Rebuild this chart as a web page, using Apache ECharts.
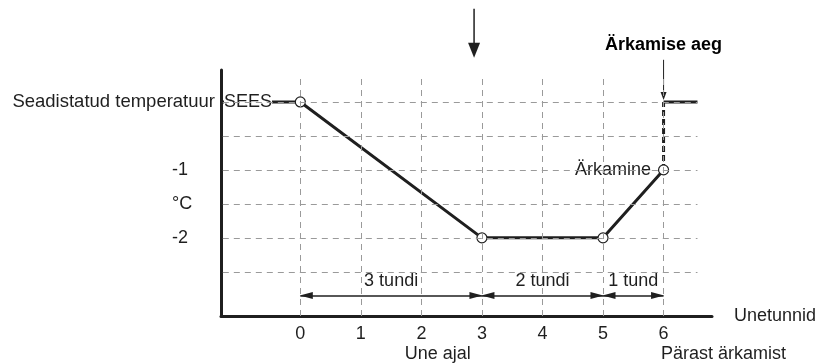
<!DOCTYPE html>
<html>
<head>
<meta charset="utf-8">
<script src="https://cdn.jsdelivr.net/npm/echarts@6/dist/echarts.min.js"></script>
<style>
  html, body { margin: 0; padding: 0; background: #fff; }
  #chart { width: 821px; height: 363px; }
</style>
</head>
<body>
<div id="chart"></div>
<script>
// axis extents
const xStart = -1.31
const xEnd = 6.8
const yMin = -3.15
const yMax = 0.47

// tick labels
const xTicks = [0, 1, 2, 3, 4, 5, 6]
const yTickVals = [0, -1, -1.5, -2]
const yTickText = ['Seadistatud temperatuur', '-1', '°C', '-2']

// dashed grid
const gridXs = [0, 1, 2, 3, 4, 5, 6]
const gridYs = [0, -0.5, -1, -1.5, -2, -2.5]
const gridXTop = 0.4
const gridYRight = 6.56

// temperature curve
const curveX = [xStart, 0, 3, 5, 6]
const curveY = [0, 0, -2, -2, -1]
const curveNames = ['SEES', '', '', '', 'Ärkamine']
const wakeX = [6, 6, 6.56]
const wakeY = [-1, 0, 0]

// duration arrows
const spanFrom = [0, 3, 5]
const spanTo = [3, 5, 6]
const spanText = ['3 tundi', '2 tundi', '1 tund']
const spanY = -2.85

// notes under the axis
const noteX = [2.27, 6.99]
const noteY = [-3.71, -3.71]
const noteText = ['Une ajal', 'Pärast ärkamist']

// pointers at the top
const bigArrow = { x: 2.87, from: 1.37, to: 0.65 }
const wakeArrow = { x: 6, from: 0.62, to: 0.03, text: 'Ärkamise aeg' }

const ink = '#1f1f1f'
const font = 'Liberation Sans, Arial, sans-serif'
const fs = 18

const chart = echarts.init(document.getElementById('chart'))

const gridLines = []
gridYs.forEach(y => gridLines.push([{ coord: [xStart + 0.03, y] }, { coord: [gridYRight, y] }]))
gridXs.forEach(x => gridLines.push([{ coord: [x, yMin] }, { coord: [x, gridXTop] }]))

const head = { symbol: 'triangle', symbolSize: [7, 13], symbolOffset: [0, 6] }
const spanLines = spanFrom.map((f, i) => [
  { coord: [f, spanY], name: spanText[i], ...head },
  { coord: [spanTo[i], spanY], ...head }
])

const option = {
  animation: false,
  grid: { left: 221, right: 109, top: 70, bottom: 47 },
  textStyle: { fontFamily: font },
  xAxis: {
    type: 'value',
    min: xStart,
    max: xEnd,
    z: 3,
    name: 'Unetunnid',
    nameLocation: 'end',
    nameGap: 22,
    nameTextStyle: { fontSize: fs, color: ink, fontFamily: font, verticalAlign: 'middle' },
    axisLine: { show: true, onZero: false, lineStyle: { color: ink, width: 3 } },
    axisTick: { show: false },
    splitLine: { show: false },
    axisLabel: {
      customValues: xTicks,
      margin: 9,
      fontSize: fs,
      color: ink,
      fontFamily: font,
      formatter: v => String(v)
    }
  },
  yAxis: {
    type: 'value',
    min: yMin,
    max: yMax,
    z: 3,
    axisLine: { show: true, onZero: false, lineStyle: { color: ink, width: 3 } },
    axisTick: { show: false },
    splitLine: { show: false },
    axisLabel: {
      customValues: yTickVals,
      margin: 6,
      fontSize: 18.5,
      color: ink,
      fontFamily: font,
      align: 'right',
      formatter: v => {
        const i = yTickVals.findIndex(t => Math.abs(t - v) < 1e-6)
        if (i < 0) return ''
        if (i === 0) return yTickText[0]
        return '{n|' + yTickText[i] + '}'
      },
      rich: {
        n: { width: 43, align: 'left', fontSize: fs, color: ink, fontFamily: font }
      }
    }
  },
  series: [
    {
      // dashed grid
      type: 'line',
      data: [],
      z: 1,
      silent: true,
      markLine: {
        silent: true,
        symbol: ['none', 'none'],
        label: { show: false },
        lineStyle: { color: '#9a9a9a', type: [6, 5], width: 1 },
        data: gridLines
      }
    },
    {
      // wake-up jump (dashed)
      type: 'line',
      data: [[wakeX[0], wakeY[0]], [wakeX[1], wakeY[1]]],
      showSymbol: false,
      z: 2,
      lineStyle: { color: ink, width: 3, type: [6, 3] }
    },
    {
      type: 'line',
      data: [[wakeX[1], wakeY[1]], [wakeX[2], wakeY[2]]],
      showSymbol: false,
      z: 2,
      lineStyle: { color: ink, width: 3 }
    },
    {
      // temperature curve
      type: 'line',
      z: 4,
      clip: false,
      showAllSymbol: true,
      data: curveX.map((x, i) => ({
        value: [x, curveY[i]],
        name: curveNames[i],
        symbolSize: i === 0 ? 0 : 10,
        label: i === 0
          ? { show: true, position: 'right', distance: 3, formatter: '{b}', backgroundColor: '#fff' }
          : i === curveX.length - 1
            ? { show: true, position: 'left', distance: 6, formatter: '{b}', backgroundColor: '#fff', padding: [1, 1] }
            : { show: false }
      })),
      symbol: 'circle',
      itemStyle: { color: '#fff', borderColor: ink, borderWidth: 1.2 },
      lineStyle: { color: ink, width: 3 },
      label: { fontSize: fs, color: ink, fontFamily: font },
      markLine: {
        silent: true,
        lineStyle: { color: ink, width: 1.5, type: 'solid' },
        label: {
          show: true,
          position: 'middle',
          distance: 6,
          formatter: '{b}',
          fontSize: fs,
          color: ink,
          fontFamily: font
        },
        data: spanLines
      }
    },
    {
      // notes below the ticks
      type: 'scatter',
      clip: false,
      symbolSize: 1,
      silent: true,
      itemStyle: { opacity: 0 },
      data: noteX.map((x, i) => ({ value: [x, noteY[i]], name: noteText[i] })),
      label: {
        show: true,
        position: 'inside',
        formatter: '{b}',
        fontSize: fs,
        color: ink,
        opacity: 1,
        fontFamily: font
      }
    }
  ]
}

chart.setOption(option)

// pointers above the plot, placed through the axes
const px = (x, y) => chart.convertToPixel({ gridIndex: 0 }, [x, y])
const arrow = (a, hl, w, lw) => {
  const s = px(a.x, a.from)
  const e = px(a.x, a.to)
  return [
    { type: 'line', shape: { x1: s[0], y1: s[1], x2: e[0], y2: e[1] - hl + 2 }, style: { stroke: ink, lineWidth: lw } },
    { type: 'polygon', shape: { points: [[e[0] - w / 2, e[1] - hl], [e[0] + w / 2, e[1] - hl], [e[0], e[1]]] }, style: { fill: ink } }
  ]
}
const wakeTop = px(wakeArrow.x, wakeArrow.from)
chart.setOption({
  graphic: [
    ...arrow(bigArrow, 15, 12, 1.5),
    ...arrow(wakeArrow, 8, 6, 1),
    {
      type: 'text',
      x: wakeTop[0],
      y: wakeTop[1] - 6,
      style: {
        text: wakeArrow.text,
        align: 'center',
        verticalAlign: 'bottom',
        font: 'bold ' + fs + 'px ' + font,
        fill: '#000'
      }
    }
  ]
})
</script>
</body>
</html>
